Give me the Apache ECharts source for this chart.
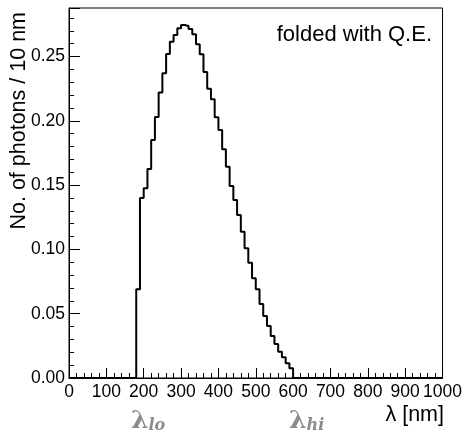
<!DOCTYPE html>
<html><head><meta charset="utf-8">
<script src="https://cdn.jsdelivr.net/npm/echarts@6/dist/echarts.min.js"></script>
<style>html,body{margin:0;padding:0;background:#fff}#c{width:465px;height:433px}</style>
</head><body><div id="c"></div>
<script>
// ---- data ----
const binWidth = 10;            // nm
const firstBinLow = 180;        // nm, low edge of first non-empty bin
const photonsPer10nm = [
  0.069, 0.140, 0.1475, 0.1625, 0.185, 0.203, 0.222, 0.237, 0.252, 0.2615,
  0.2667, 0.272, 0.2745, 0.2737, 0.2714, 0.2673, 0.2595, 0.2517, 0.238, 0.225,
  0.2167, 0.2027, 0.1928, 0.1778, 0.1643, 0.1493, 0.1384, 0.1267, 0.1138, 0.1009,
  0.0897, 0.0775, 0.069, 0.0575, 0.0482, 0.0404, 0.0327, 0.0264, 0.0205, 0.0161,
  0.0114, 0.0075
];
const xRange = [0, 1000];
const yMax = 0.2877;
const xTickLabels = ['0','100','200','300','400','500','600','700','800','900','1000'];
const yTickLabels = ['0.00','0.05','0.10','0.15','0.20','0.25'];
const xTitle = 'λ [nm]';
const yTitle = 'No. of photons / 10 nm';
const legendText = 'folded with Q.E.';

// ---- build histogram step outline ----
const stepData = [];
for (let x = xRange[0]; x < xRange[1]; x += binWidth) {
  const i = Math.round((x - firstBinLow) / binWidth);
  const v = (i >= 0 && i < photonsPer10nm.length) ? photonsPer10nm[i] : 0;
  stepData.push([x, v]);
}
stepData.push([xRange[1], stepData[stepData.length - 1][1]]);

const FONT = 'Liberation Sans';
const chart = echarts.init(document.getElementById('c'), null, {renderer: 'canvas'});
const grid = {left: 69, right: 18, top: 8, bottom: 55, show: true, borderColor: '#000', borderWidth: 1, backgroundColor: 'transparent'};
const lamRich = {
  l: {fontFamily: 'DejaVu Serif', fontWeight: 'bold', fontSize: 25, fill: '#8c8c8c', lineHeight: 28, verticalAlign: 'bottom'},
  s: {fontFamily: 'DejaVu Serif', fontStyle: 'italic', fontWeight: 'bold', fontSize: 16, fill: '#8c8c8c', lineHeight: 22, verticalAlign: 'bottom'}
};

chart.setOption({
  animation: false,
  backgroundColor: '#fff',
  grid: grid,
  xAxis: [{
    type: 'value', min: xRange[0], max: xRange[1], interval: 100,
    axisLine: {show: true, onZero: false, lineStyle: {color: '#000', width: 1}},
    axisTick: {show: true, inside: true, length: 10, lineStyle: {color: '#000', width: 1}},
    minorTick: {show: true, splitNumber: 5, length: 5, lineStyle: {color: '#000', width: 1}},
    splitLine: {show: false},
    axisLabel: {
      color: '#000', fontFamily: FONT, fontSize: 17.5, margin: 5,
      formatter: v => xTickLabels[Math.round(v / 100)] ?? ''
    }
  }],
  yAxis: [{
    type: 'value', min: 0, max: yMax, interval: 0.05,
    axisLine: {show: true, onZero: false, lineStyle: {color: '#000', width: 1}},
    axisTick: {show: true, inside: true, length: 11, lineStyle: {color: '#000', width: 1}},
    splitLine: {show: false},
    axisLabel: {
      color: '#000', fontFamily: FONT, fontSize: 17.5, margin: 4,
      formatter: v => {
        const k = Math.round(v / 0.05);
        return Math.abs(v - k * 0.05) < 1e-6 ? (yTickLabels[k] ?? '') : '';
      }
    }
  }, {
    type: 'value', min: 0, max: yMax, interval: 0.01, position: 'left',
    axisLine: {show: false},
    axisTick: {show: true, inside: true, length: 5, lineStyle: {color: '#000', width: 1}},
    splitLine: {show: false},
    axisLabel: {show: false}
  }],
  series: [{
    type: 'line', xAxisIndex: 0, yAxisIndex: 0,
    step: 'end', data: stepData, symbol: 'none',
    lineStyle: {color: '#000', width: 2}, z: 3
  }],
  graphic: [
    {type: 'text', x: 19, y: 12, rotation: Math.PI / 2,
     style: {text: yTitle, fontFamily: FONT, fontSize: 21.5, fill: '#000', align: 'right', verticalAlign: 'middle'}},
    {type: 'text', x: 444, y: 415,
     style: {text: xTitle, fontFamily: FONT, fontSize: 21.5, fill: '#000', align: 'right', verticalAlign: 'middle'}},
    {type: 'text', x: 432, y: 35,
     style: {text: legendText, fontFamily: FONT, fontSize: 22, fill: '#000', align: 'right', verticalAlign: 'middle'}},
    {type: 'text', x: 131, y: 420,
     style: {text: '{l|λ}{s|lo}', verticalAlign: 'middle', rich: lamRich}},
    {type: 'text', x: 289, y: 420,
     style: {text: '{l|λ}{s|hi}', verticalAlign: 'middle', rich: lamRich}}
  ]
});
</script>
</body></html>
